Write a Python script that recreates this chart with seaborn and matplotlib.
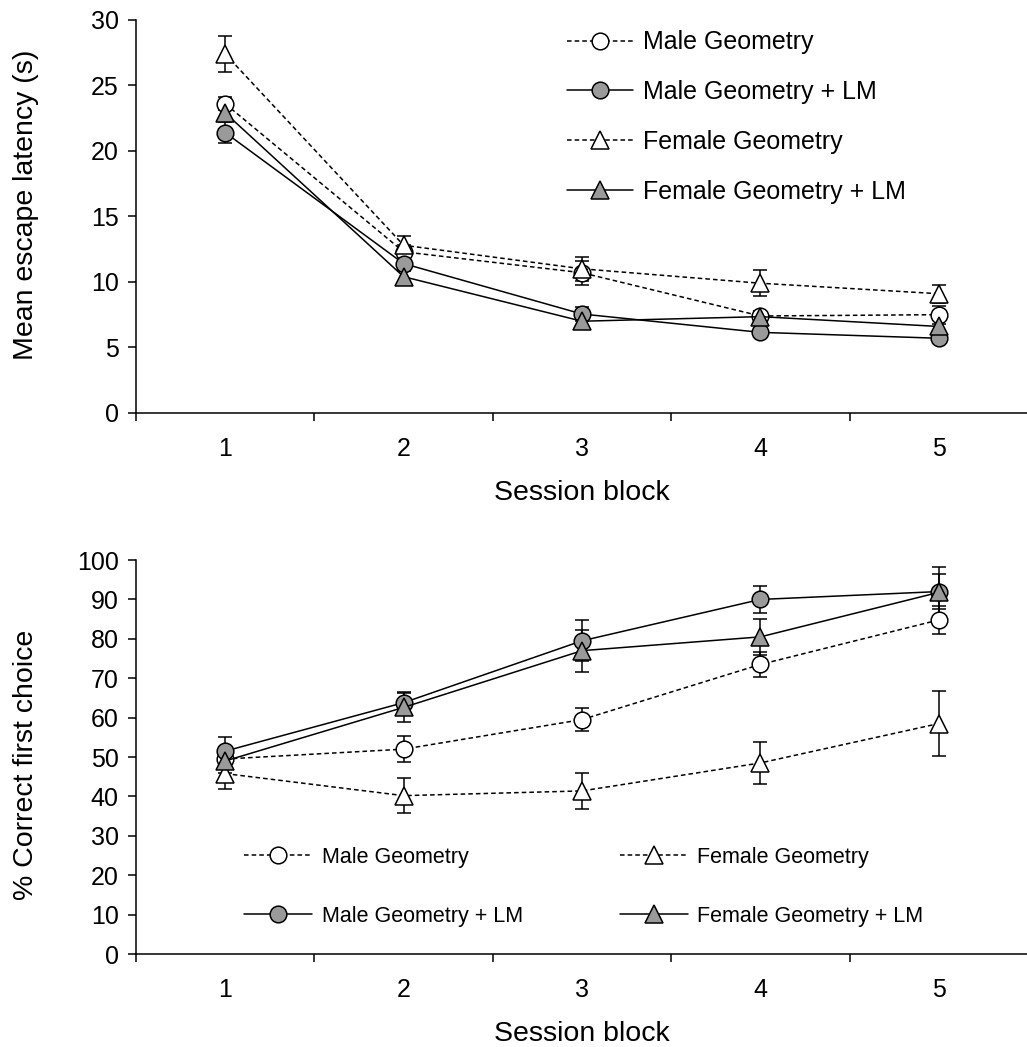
import numpy as np
import pandas as pd
import matplotlib
matplotlib.use("Agg")
import matplotlib.pyplot as plt
import seaborn as sns

# === Datos ===
sesiones = [1, 2, 3, 4, 5]

# Latencia media de escape (s) y error estandar
lat_mg = [23.6, 12.3, 10.7, 7.4, 7.5]
lat_mg_se = [0.5, 0.5, 0.9, 0.4, 0.7]
lat_mlm = [21.4, 11.4, 7.55, 6.15, 5.7]
lat_mlm_se = [0.8, 0.4, 0.5, 0.3, 0.4]
lat_fg = [27.4, 12.8, 11.0, 9.9, 9.1]
lat_fg_se = [1.4, 0.7, 0.9, 1.0, 0.7]
lat_flm = [22.9, 10.4, 7.0, 7.35, 6.6]
lat_flm_se = [0.5, 0.4, 0.4, 0.4, 0.5]

# % primera eleccion correcta y error estandar
pct_mg = [49.5, 52.0, 59.5, 73.5, 84.8]
pct_mg_se = [2.5, 3.3, 3.0, 3.2, 3.6]
pct_mlm = [51.5, 63.8, 79.5, 90.0, 92.0]
pct_mlm_se = [3.5, 2.8, 5.2, 3.4, 4.4]
pct_fg = [45.8, 40.2, 41.4, 48.5, 58.5]
pct_fg_se = [4.0, 4.4, 4.5, 5.3, 8.2]
pct_flm = [49.0, 62.6, 77.0, 80.5, 91.8]
pct_flm_se = [3.0, 3.7, 5.3, 4.6, 6.5]

GRIS = "#9a9a9a"
ESTILOS = {
    "Male Geometry": dict(marker="o", mfc="white", ls="--", ms=12),
    "Male Geometry + LM": dict(marker="o", mfc=GRIS, ls="-", ms=12),
    "Female Geometry": dict(marker="^", mfc="white", ls="--", ms=13),
    "Female Geometry + LM": dict(marker="^", mfc=GRIS, ls="-", ms=13),
}

sns.set_style("ticks")
plt.rcParams["font.family"] = ["Liberation Sans", "DejaVu Sans"]
for k in ["text.color", "axes.labelcolor", "xtick.color", "ytick.color", "axes.edgecolor"]:
    plt.rcParams[k] = "black"

fig = plt.figure(figsize=(10.27, 10.47), dpi=100)
ax1 = fig.add_axes([0.1324, 0.6056, 0.8686, 0.3754])
ax2 = fig.add_axes([0.1324, 0.0888, 0.8686, 0.3763])


def dibujar(ax, series):
    for nombre, (vals, errs) in series.items():
        st = ESTILOS[nombre]
        ax.errorbar(sesiones, vals, yerr=errs, fmt="none", ecolor="black",
                    elinewidth=1.1, capsize=5, capthick=1.1, zorder=2)
        sns.lineplot(x=sesiones, y=vals, ax=ax, color="black",
                     linewidth=1.1, linestyle=st["ls"], marker=st["marker"],
                     markersize=st["ms"], markerfacecolor=st["mfc"],
                     markeredgecolor="black", markeredgewidth=1.1,
                     label=nombre, zorder=3, legend=False)
    for l in ax.get_lines():
        if l.get_linestyle() == "--":
            l.set_dashes((3, 2))


def ejes(ax, ylim, yticks, ylabel, ypos):
    ax.set_xlim(0.5, 5.5)
    ax.set_ylim(*ylim)
    ax.set_yticks(yticks)
    ax.set_xticks(sesiones)
    ax.set_xticks(np.arange(0.5, 6.0, 1.0), minor=True)
    ax.tick_params(axis="x", which="major", length=0, pad=17, labelsize=18)
    ax.tick_params(axis="x", which="minor", length=5.5, width=1.1, direction="out")
    ax.tick_params(axis="y", length=5.5, width=1.1, direction="out", pad=7, labelsize=18)
    for s in ["top", "right"]:
        ax.spines[s].set_visible(False)
    for s in ["left", "bottom"]:
        ax.spines[s].set_linewidth(1.1)
        ax.spines[s].set_color("black")
    ax.set_xlabel("Session block", fontsize=20.5, labelpad=14)
    ax.set_ylabel(ylabel, fontsize=20.5)
    ax.yaxis.set_label_coords(-0.109, ypos)


dibujar(ax1, {
    "Male Geometry": (lat_mg, lat_mg_se),
    "Male Geometry + LM": (lat_mlm, lat_mlm_se),
    "Female Geometry": (lat_fg, lat_fg_se),
    "Female Geometry + LM": (lat_flm, lat_flm_se),
})
ejes(ax1, (0, 30), range(0, 31, 5), "Mean escape latency (s)", 0.53)

dibujar(ax2, {
    "Male Geometry": (pct_mg, pct_mg_se),
    "Male Geometry + LM": (pct_mlm, pct_mlm_se),
    "Female Geometry": (pct_fg, pct_fg_se),
    "Female Geometry + LM": (pct_flm, pct_flm_se),
})
ejes(ax2, (0, 100), range(0, 101, 10), "% Correct first choice", 0.48)

h1, l1 = ax1.get_legend_handles_labels()
ax1.legend(h1, l1, loc="upper left", bbox_to_anchor=(0.552, 0.971),
           bbox_transform=fig.transFigure, frameon=False, fontsize=18,
           handlelength=2.64, handletextpad=0.4, labelspacing=1.03,
           borderpad=0, borderaxespad=0, numpoints=1)

h2, l2 = ax2.get_legend_handles_labels()
ax2.legend(h2, l2, loc="upper left", bbox_to_anchor=(0.2376, 0.191),
           bbox_transform=fig.transFigure, frameon=False, fontsize=15.5, ncol=2,
           handlelength=3.15, handletextpad=0.46, labelspacing=1.75,
           columnspacing=4.5, borderpad=0, borderaxespad=0, numpoints=1)

plt.savefig("out.png", dpi=100)
plt.close()
